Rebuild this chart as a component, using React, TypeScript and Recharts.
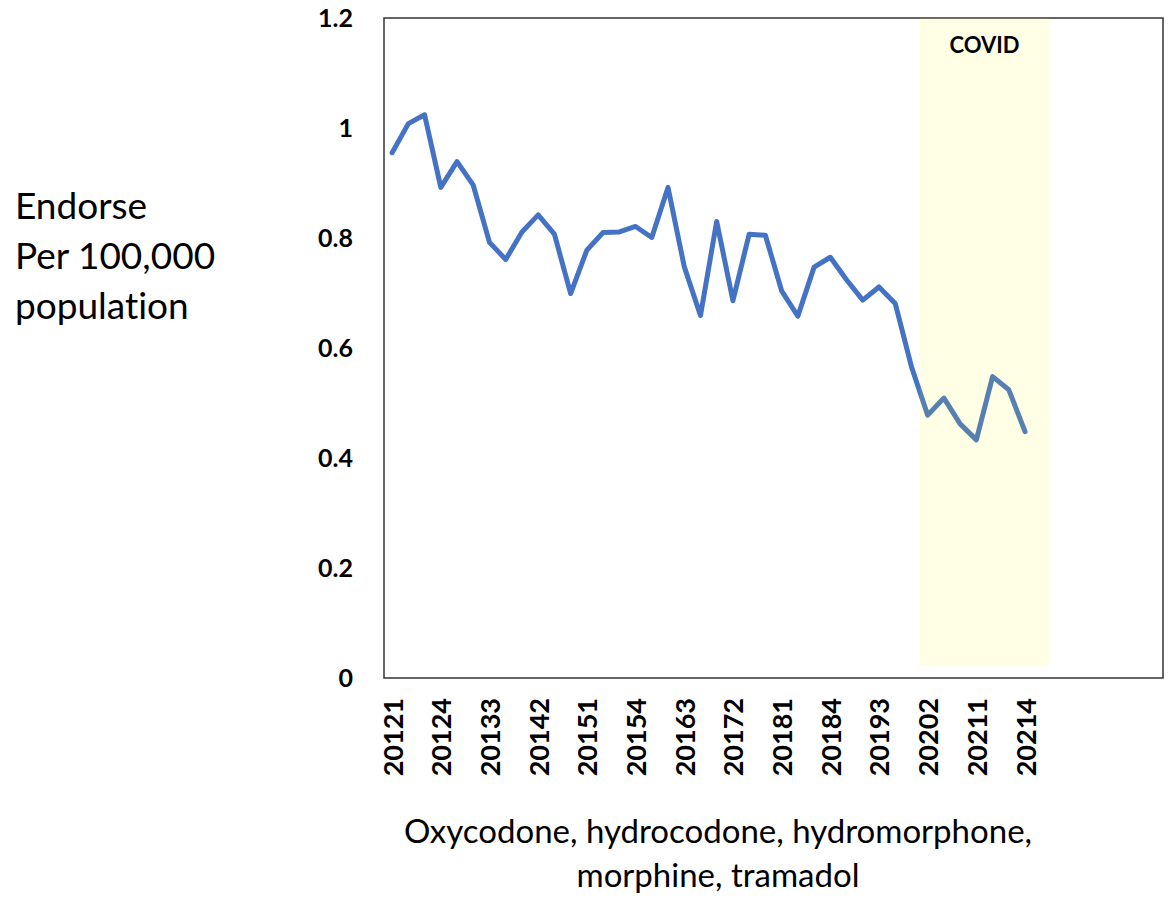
import React from 'react';
import {
  ComposedChart, Line, XAxis, YAxis, ReferenceArea
} from 'recharts';

// quarter codes: year + quarter number
const quarters = [
  '20121', '20122', '20123', '20124', '20131', '20132', '20133', '20134',
  '20141', '20142', '20143', '20144', '20151', '20152', '20153', '20154',
  '20161', '20162', '20163', '20164', '20171', '20172', '20173', '20174',
  '20181', '20182', '20183', '20184', '20191', '20192', '20193', '20194',
  '20201', '20202', '20203', '20204', '20211', '20212', '20213', '20214',
  '20221', '20222', '20223', '20224', '20231', '20232', '20233', '20234',
];

const endorseRate = [
  0.955, 1.008, 1.024, 0.892, 0.939, 0.896, 0.792, 0.761,
  0.811, 0.842, 0.807, 0.699, 0.778, 0.810, 0.811, 0.821,
  0.801, 0.892, 0.748, 0.659, 0.830, 0.686, 0.807, 0.805,
  0.704, 0.658, 0.747, 0.765, 0.724, 0.687, 0.711, 0.681,
  0.566, 0.478, 0.509, 0.462, 0.433, 0.548, 0.524, 0.448,
];

const yTicks = [0, 0.2, 0.4, 0.6, 0.8, 1, 1.2];

const data = quarters.map((q, i) => ({
  q,
  rate: i < endorseRate.length ? endorseRate[i] : null,
}));

const FONT = 'Lato, "Open Sans", sans-serif';

const XTick = ({ x, y, payload }: any) => {
  const idx = quarters.indexOf(payload.value);
  if (idx % 3 !== 0 || idx >= endorseRate.length) return null;
  return (
    <text
      x={x}
      y={y}
      transform={`rotate(-90, ${x}, ${y})`}
      textAnchor="end"
      dominantBaseline="central"
      fontFamily={FONT}
      fontWeight="bold"
      fontSize={27}
      fill="#000"
    >
      {payload.value}
    </text>
  );
};

export default function App() {
  return (
    <div style={{ position: 'absolute', left: 0, top: 0, width: 1168, height: 900, background: '#fff' }}>
      <ComposedChart
        width={1168}
        height={900}
        data={data}
        margin={{ top: 18, right: 5, left: 300, bottom: 112 }}
      >
        <XAxis
          dataKey="q"
          scale="band"
          height={110}
          interval={0}
          tick={<XTick />}
          tickLine={false}
          tickSize={0}
          tickMargin={20}
          axisLine={false}
        />
        <YAxis
          width={84}
          domain={[0, 1.2]}
          ticks={yTicks}
          tickFormatter={(v: number) => String(v)}
          tick={{ fontFamily: FONT, fontWeight: 'bold', fontSize: 25, fill: '#000' }}
          tickLine={false}
          tickSize={0}
          tickMargin={31}
          axisLine={false}
        />
        <Line
          type="linear"
          dataKey="rate"
          stroke="#4472C4"
          strokeWidth={5}
          strokeLinejoin="round"
          strokeLinecap="round"
          dot={false}
          activeDot={false}
          isAnimationActive={false}
        />
        <ReferenceArea
          x1="20202"
          x2="20221"
          y1={0.022}
          y2={1.2}
          fill="#FFFF00"
          fillOpacity={0.1}
          stroke="none"
          zIndex={500}
          label={{
            value: 'COVID',
            position: 'insideTop',
            offset: 19,
            fontFamily: FONT,
            fontWeight: 'bold',
            fontSize: 22,
            fill: '#000',
          }}
        />
        {/* plot frame */}
        <ReferenceArea
          x1="20121"
          x2="20234"
          y1={0}
          y2={1.2}
          ifOverflow="visible"
          fill="none"
          fillOpacity={0}
          stroke="#333"
          strokeWidth={1.5}
        />
      </ComposedChart>
      <div
        style={{
          position: 'absolute', left: 15, top: 180,
          fontFamily: FONT, fontSize: 37, lineHeight: '50px', color: '#000',
          fontVariantLigatures: 'none', whiteSpace: 'nowrap',
        }}
      >
        Endorse<br />Per 100,000<br />population
      </div>
      <div
        style={{
          position: 'absolute', left: 268, top: 808, width: 900,
          textAlign: 'center',
          fontFamily: FONT, fontSize: 33, lineHeight: '44px', color: '#000',
          fontVariantLigatures: 'none',
        }}
      >
        Oxycodone, hydrocodone, hydromorphone,<br />morphine, tramadol
      </div>
    </div>
  );
}
